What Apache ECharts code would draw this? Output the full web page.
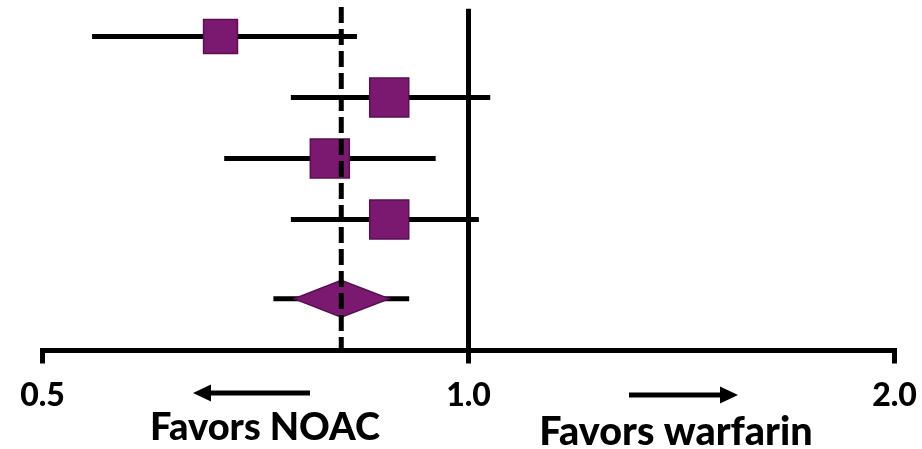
<!DOCTYPE html>
<html>
<head>
<meta charset="utf-8">
<script src="https://cdn.jsdelivr.net/npm/echarts@6/dist/echarts.min.js"></script>
<style>
  html, body { margin: 0; padding: 0; background: #fff; }
  #main { width: 922px; height: 449px; }
</style>
</head>
<body>
<div id="main"></div>
<script>
// study rows (top to bottom), hazard ratios on log scale
var rows = [0, 1, 2, 3];
var estimate = [0.668, 0.879, 0.798, 0.879];
var lower = [0.542, 0.749, 0.672, 0.749];
var upper = [0.834, 1.036, 0.948, 1.017];
var weight = [0.87, 1, 1, 1];

// pooled estimate (diamond) with its outer interval
var pooledRow = 4.3;
var pooledEstimate = 0.813;
var pooledCI = [0.753, 0.879];
var pooledPI = [0.728, 0.908];

var tickValues = [0.5, 1.0, 2.0];
var nullValue = 1.0;

var purple = '#7b1870';
var edge = '#5a0f52';
var font = 'Lato, "Open Sans", sans-serif';

var chart = echarts.init(document.getElementById('main'));

var studyData = rows.map(function (r, i) {
    return [lower[i], estimate[i], upper[i], r, weight[i]];
});

function drawStudy(params, api) {
    var lo = api.coord([api.value(0), api.value(3)]);
    var mid = api.coord([api.value(1), api.value(3)]);
    var hi = api.coord([api.value(2), api.value(3)]);
    var s = 39 * api.value(4);
    return {
        type: 'group',
        children: [
            { type: 'line', shape: { x1: lo[0], y1: lo[1], x2: hi[0], y2: hi[1] },
              style: { stroke: '#000', lineWidth: 5 } },
            { type: 'rect', shape: { x: mid[0] - s / 2, y: mid[1] - s / 2, width: s, height: s },
              style: { fill: purple, stroke: edge, lineWidth: 1.5 } }
        ]
    };
}

function drawPooled(params, api) {
    var y = api.value(5);
    var p0 = api.coord([api.value(0), y]);
    var c0 = api.coord([api.value(1), y]);
    var m = api.coord([api.value(2), y]);
    var c1 = api.coord([api.value(3), y]);
    var p1 = api.coord([api.value(4), y]);
    var h = 18.5;
    return {
        type: 'group',
        children: [
            { type: 'line', shape: { x1: p0[0], y1: p0[1], x2: p1[0], y2: p1[1] },
              style: { stroke: '#000', lineWidth: 5 } },
            { type: 'polygon', shape: { points: [[c0[0], c0[1]], [m[0], m[1] - h], [c1[0], c1[1]], [m[0], m[1] + h]] },
              style: { fill: purple, stroke: edge, lineWidth: 1.5 } }
        ]
    };
}

// vertical reference lines run from near the top down to the axis
var lineTop = -0.455;
var lineBottom = 5.15;

chart.setOption({
    animation: false,
    grid: { left: 42.5, right: 27.5, top: 0, bottom: 98.5 },
    xAxis: {
        type: 'log',
        logBase: 2,
        min: 0.5,
        max: 2,
        splitLine: { show: false },
        axisLine: { show: true, onZero: false, lineStyle: { color: '#000', width: 5, cap: 'square' } },
        axisTick: { show: true, length: 13, lineStyle: { color: '#000', width: 5 } },
        axisLabel: {
            margin: 29,
            color: '#000',
            fontFamily: font,
            fontWeight: 900,
            fontSize: 32,
            formatter: function (v) { return v.toFixed(1); }
        }
    },
    yAxis: { type: 'value', inverse: true, min: -0.6, max: 5.15, show: false },
    graphic: [
        { type: 'line', shape: { x1: 208, y1: 393, x2: 310, y2: 393 }, style: { stroke: '#000', lineWidth: 5 } },
        { type: 'polygon', shape: { points: [[193, 393], [211, 384.5], [211, 401.5]] }, style: { fill: '#000' } },
        { type: 'line', shape: { x1: 629, y1: 395, x2: 722, y2: 395 }, style: { stroke: '#000', lineWidth: 5 } },
        { type: 'polygon', shape: { points: [[738, 395], [720, 386.5], [720, 403.5]] }, style: { fill: '#000' } },
        { type: 'text', x: 265, y: 428, style: { text: 'Favors NOAC', fill: '#000', font: '900 38px ' + font, align: 'center', verticalAlign: 'middle' } },
        { type: 'text', x: 676, y: 432, style: { text: 'Favors warfarin', fill: '#000', font: '900 39.5px ' + font, align: 'center', verticalAlign: 'middle' } }
    ],
    series: [
        {
            type: 'custom',
            renderItem: drawStudy,
            data: studyData,
            z: 2
        },
        {
            type: 'custom',
            renderItem: drawPooled,
            data: [[pooledPI[0], pooledCI[0], pooledEstimate, pooledCI[1], pooledPI[1], pooledRow]],
            z: 2
        },
        {
            type: 'line',
            data: [[nullValue, lineTop], [nullValue, lineBottom]],
            showSymbol: false,
            lineStyle: { color: '#000', width: 5 },
            z: 3
        },
        {
            type: 'line',
            data: [[pooledEstimate, lineTop - 0.03], [pooledEstimate, lineBottom]],
            showSymbol: false,
            lineStyle: { color: '#000', width: 5, type: [16, 6] },
            z: 4
        }
    ]
});
</script>
</body>
</html>
